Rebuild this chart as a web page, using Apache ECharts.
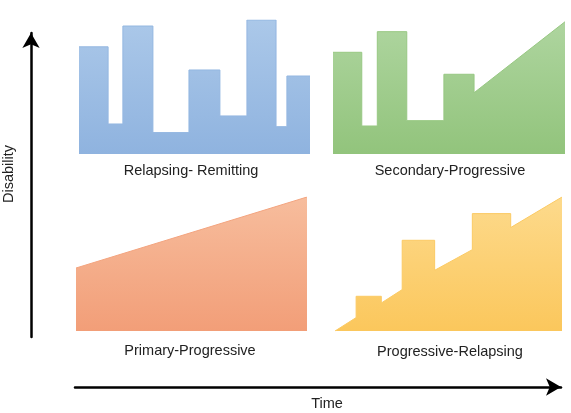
<!DOCTYPE html>
<html>
<head>
<meta charset="utf-8">
<script src="https://cdn.jsdelivr.net/npm/echarts@6/dist/echarts.min.js"></script>
<style>
  html, body { margin: 0; padding: 0; background: #fff; }
  #main { width: 571px; height: 413px; }
</style>
</head>
<body>
<div id="main"></div>
<script>
// time (0-100) / disability (0-100) vertices of each course
var relapsingRemitting = [[0, 80], [12.6, 80], [12.6, 22.4], [19, 22.4], [19, 95.5], [32, 95.5], [32, 16],
  [47.6, 16], [47.6, 62.7], [61, 62.7], [61, 28.4], [72.7, 28.4], [72.7, 100], [85.3, 100], [85.3, 20.4],
  [90, 20.4], [90, 58.2], [100, 58.2]];
var secondaryProgressive = [[0, 75.9], [12.4, 75.9], [12.4, 20.9], [19.1, 20.9], [19.1, 91.3], [31.8, 91.3],
  [31.8, 24.9], [47.8, 24.9], [47.8, 59.5], [60.8, 59.5], [60.8, 45.7], [100, 98.7]];
var primaryProgressive = [[0, 47], [100, 100]];
var progressiveRelapsing = [[0, 0], [9.3, 10], [9.3, 25.9], [20.4, 25.9], [20.4, 20.9], [29.6, 30.9],
  [29.6, 67.7], [43.9, 67.7], [43.9, 45.3], [60.5, 60.7], [60.5, 87.6], [77.4, 87.6], [77.4, 77.2], [100, 100]];

var panelNames = ['Relapsing- Remitting', 'Secondary-Progressive', 'Primary-Progressive', 'Progressive-Relapsing'];
var panelData = [relapsingRemitting, secondaryProgressive, primaryProgressive, progressiveRelapsing];
var panelColors = [
  ['#abc8e9', '#8fb3df', '#94b7e1'],
  ['#aed59f', '#92c47c', '#98c883'],
  ['#f7bd9d', '#f29e78', '#f3a47f'],
  ['#fdda8c', '#fbc75c', '#fbca64']
];

var myChart = echarts.init(document.getElementById('main'));

var grids = [
  { left: 79, top: 20, width: 231, height: 134 },
  { left: 333, top: 20, width: 232, height: 134 },
  { left: 76, top: 197, width: 231, height: 134 },
  { left: 335, top: 197, width: 227, height: 134 },
  // disability arrow
  { left: 31, top: 33, width: 10, bottom: 76 },
  // time arrow
  { left: 75, right: 10, bottom: 26, height: 10 }
];

var xAxes = [], yAxes = [], series = [];
for (var i = 0; i < 4; i++) {
  xAxes.push({ type: 'value', gridIndex: i, min: 0, max: 100, show: false });
  yAxes.push({ type: 'value', gridIndex: i, min: 0, max: 100, show: false });
  series.push({
    name: panelNames[i],
    type: 'line',
    xAxisIndex: i,
    yAxisIndex: i,
    data: panelData[i],
    symbol: 'none',
    silent: true,
    animation: false,
    lineStyle: { width: 1, color: panelColors[i][2] },
    areaStyle: {
      opacity: 1,
      color: new echarts.graphic.LinearGradient(0, 0, 0, 1, [
        { offset: 0, color: panelColors[i][0] },
        { offset: 1, color: panelColors[i][1] }
      ])
    }
  });
}

var arrowLine = { show: true, symbol: ['none', 'arrow'], symbolSize: [13, 15],
  lineStyle: { color: '#000', width: 2.5 } };

// vertical Disability axis
xAxes.push({ type: 'value', gridIndex: 4, show: false });
yAxes.push({ type: 'value', gridIndex: 4, min: 0, max: 1, position: 'left',
  axisLine: arrowLine, axisTick: { show: false }, axisLabel: { show: false }, splitLine: { show: false } });
// horizontal Time axis
xAxes.push({ type: 'value', gridIndex: 5, min: 0, max: 1, position: 'bottom',
  axisLine: arrowLine, axisTick: { show: false }, axisLabel: { show: false }, splitLine: { show: false } });
yAxes.push({ type: 'value', gridIndex: 5, show: false });

var txt = function (x, y, s, rot) {
  return {
    type: 'text', x: x, y: y, rotation: rot || 0,
    style: { text: s, textAlign: 'center', textVerticalAlign: 'middle',
      fill: '#222', font: '14.5px "Liberation Sans", Arial, sans-serif' }
  };
};

var option = {
  backgroundColor: '#fff',
  grid: grids,
  xAxis: xAxes,
  yAxis: yAxes,
  series: series,
  graphic: [
    txt(191, 171, panelNames[0]),
    txt(450, 171, panelNames[1]),
    txt(190, 351, panelNames[2]),
    txt(450, 352, panelNames[3]),
    txt(327, 404, 'Time'),
    txt(9, 174, 'Disability', Math.PI / 2)
  ]
};
myChart.setOption(option);
</script>
</body>
</html>
